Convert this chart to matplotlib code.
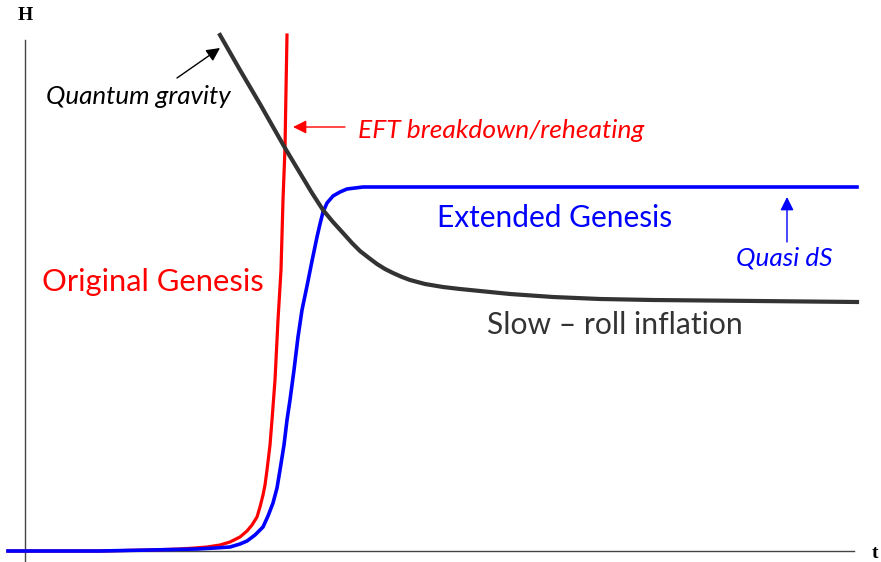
import matplotlib.pyplot as plt

# Curves (t, H in arbitrary units)
slow_roll_t = [1.95, 2.15, 2.35, 2.60, 2.75, 2.87, 2.98, 3.08, 3.18, 3.27,
               3.35, 3.44, 3.52, 3.60, 3.68, 3.77, 3.85, 4.00, 4.18, 4.35,
               4.55, 4.85, 5.28, 5.75, 6.28, 7.32, 8.32]
slow_roll_h = [5.16, 4.81, 4.47, 4.03, 3.78, 3.58, 3.41, 3.29, 3.18, 3.08,
               3.00, 2.93, 2.87, 2.82, 2.78, 2.74, 2.71, 2.67, 2.64, 2.62,
               2.60, 2.57, 2.54, 2.52, 2.51, 2.50, 2.49]

original_t = [-0.17, 0.75, 1.25, 1.55, 1.70, 1.82, 1.95, 2.05, 2.15, 2.22,
              2.27, 2.32, 2.35, 2.38, 2.40, 2.42, 2.45, 2.47, 2.50, 2.53,
              2.56, 2.58, 2.60, 2.61, 2.62]
original_h = [0.00, 0.00, 0.01, 0.02, 0.03, 0.04, 0.06, 0.09, 0.14, 0.20,
              0.26, 0.34, 0.44, 0.56, 0.66, 0.81, 1.06, 1.31, 1.71, 2.31,
              2.81, 3.51, 4.03, 4.61, 5.16]

extended_t = [-0.17, 0.75, 1.25, 1.72, 1.90, 2.05, 2.15, 2.22, 2.30, 2.38,
              2.43, 2.48, 2.52, 2.55, 2.59, 2.62, 2.65, 2.69, 2.73, 2.77,
              2.82, 2.87, 2.92, 2.95, 2.98, 3.02, 3.08, 3.15, 3.22, 3.30,
              3.38, 3.75, 8.32]
extended_h = [0.00, 0.00, 0.01, 0.02, 0.03, 0.04, 0.07, 0.10, 0.16, 0.24,
              0.35, 0.48, 0.63, 0.81, 1.06, 1.31, 1.51, 1.81, 2.14, 2.41,
              2.65, 2.90, 3.14, 3.27, 3.39, 3.48, 3.55, 3.59, 3.62, 3.63,
              3.64, 3.64, 3.64]

fig = plt.figure(figsize=(8.81, 5.62), dpi=100)
ax = fig.add_axes([0, 0, 1, 1])
ax.set_xlim(-0.25, 8.56)
ax.set_ylim(-0.11, 5.51)

ax.plot(original_t, original_h, color='#ff0000', lw=2.3, solid_joinstyle='round', zorder=3)
ax.plot(extended_t, extended_h, color='#0000ff', lw=2.6, solid_joinstyle='round', zorder=3)
ax.plot(slow_roll_t, slow_roll_h, color='#333333', lw=3.0, solid_joinstyle='round', zorder=4)

# axes through the origin
for side in ('top', 'right'):
    ax.spines[side].set_visible(False)
ax.spines['left'].set_position(('data', 0))
ax.spines['bottom'].set_position(('data', 0))
ax.spines['left'].set_bounds(-0.11, 5.11)
ax.spines['bottom'].set_bounds(-0.17, 8.29)
for side in ('left', 'bottom'):
    ax.spines[side].set_color('#444444')
    ax.spines[side].set_linewidth(1.0)
ax.set_xticks([])
ax.set_yticks([])

ax.text(0.0, 5.36, 'H', fontsize=14, fontweight='bold', family='Liberation Serif',
        ha='center', va='center')
ax.text(8.50, -0.02, 't', fontsize=14, fontweight='bold', family='Liberation Serif',
        ha='center', va='center')

sans = 'Lato'
ax.text(0.17, 2.69, 'Original Genesis', color='#ff0000', fontsize=22.2,
        family=sans, ha='left', va='center')
ax.text(4.12, 3.33, 'Extended Genesis', color='#0000ff', fontsize=21.5,
        family=sans, ha='left', va='center')
ax.text(4.62, 2.26, 'Slow \u2013 roll inflation', color='#333333', fontsize=21.6,
        family=sans, ha='left', va='center')

ax.annotate('', xy=(1.95, 5.03), xytext=(1.52, 4.73),
            arrowprops=dict(arrowstyle='-|>', color='black', lw=1.0,
                            mutation_scale=20, shrinkA=0, shrinkB=0))
ax.text(0.21, 4.54, 'Quantum gravity', color='black', fontsize=18.7,
        style='italic', family=sans, ha='left', va='center')

ax.annotate('', xy=(2.68, 4.24), xytext=(3.20, 4.24),
            arrowprops=dict(arrowstyle='-|>', color='#ff0000', lw=1.0,
                            mutation_scale=20, shrinkA=0, shrinkB=0))
ax.text(3.33, 4.21, 'EFT breakdown/reheating', color='#ff0000', fontsize=19,
        style='italic', family=sans, ha='left', va='center')

ax.annotate('', xy=(7.62, 3.54), xytext=(7.62, 3.09),
            arrowprops=dict(arrowstyle='-|>', color='#0000ff', lw=1.0,
                            mutation_scale=20, shrinkA=0, shrinkB=0))
ax.text(7.11, 2.93, 'Quasi dS', color='#0000ff', fontsize=18.8,
        style='italic', family=sans, ha='left', va='center')

fig.savefig('out.png', dpi=100)
